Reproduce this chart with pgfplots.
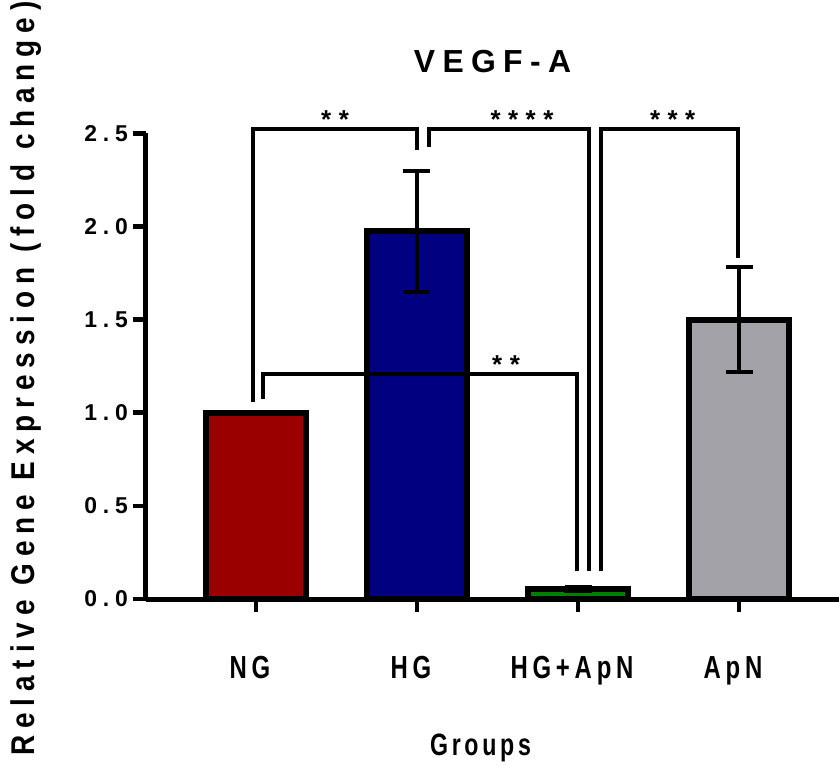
\documentclass[border=0pt]{standalone}
\usepackage{fontspec}
\setmainfont{Liberation Sans}
\newfontfamily\titlefont{Liberation Sans}[LetterSpace=23]
\newfontfamily\ylabfont{Liberation Sans}[FakeStretch=0.85, LetterSpace=21]
\newfontfamily\xlabfont{Liberation Sans}[FakeStretch=0.75, LetterSpace=12]
\newfontfamily\xtickfont{Liberation Sans}[FakeStretch=0.75, LetterSpace=15]
\newfontfamily\ytickfont{Liberation Sans}[LetterSpace=25]
\newfontfamily\starfont{Liberation Sans}[LetterSpace=29]
\usepackage{pgfplots}
\pgfplotsset{compat=1.18}

\definecolor{ngred}{RGB}{155,0,0}
\definecolor{hgblue}{RGB}{0,0,128}
\definecolor{mixgreen}{RGB}{0,128,0}
\definecolor{apngray}{RGB}{162,162,168}

\tikzset{
  sigline/.style={line width=4.5bp, line cap=butt, line join=miter, black},
  sigstar/.style={font=\starfont\fontsize{26}{26}\selectfont\bfseries, anchor=base, inner sep=0pt},
}

\begin{document}
\begin{tikzpicture}
\begin{axis}[
  scale only axis,
  width=693bp, height=465.7bp,
  xmin=-0.683, xmax=3.621,
  ymin=0, ymax=2.5,
  axis x line=bottom, axis y line=left,
  axis line style={-, line width=5bp},
  xtick={0,1,2,3},
  xticklabels={NG, HG, HG+ApN, ApN},
  ytick={0,0.5,1,1.5,2,2.5},
  tick align=outside,
  major tick length=13bp,
  tick style={line width=4.5bp, black},
  /pgf/number format/assume math mode=true,
  yticklabel={\pgfmathprintnumber[fixed, fixed zerofill, precision=1]{\tick}},
  yticklabel style={font=\ytickfont\fontsize{23}{23}\selectfont\bfseries, anchor=east, inner sep=0pt, xshift=-5bp},
  xticklabel style={font=\xtickfont\fontsize{32}{32}\selectfont\bfseries, anchor=base, inner sep=0pt, yshift=-66bp, xshift=-6bp},
  clip=false,
  ybar, bar width=0.621,
  error bars/error bar style={line width=4bp, black},
  error bars/error mark options={rotate=90, mark size=13.5bp, line width=4bp, black},
]

% group means with their error ranges
\addplot[fill=ngred, draw=black, line width=6bp, bar shift=0pt]
  coordinates {(0,1.000)};
\addplot[fill=hgblue, draw=black, line width=6bp, bar shift=0pt,
  error bars/.cd, y dir=both, y explicit]
  coordinates {(1,1.973) +- (0,0.323)};
\addplot[fill=mixgreen, draw=black, line width=6bp, bar shift=0pt,
  error bars/.cd, y dir=both, y explicit]
  coordinates {(2,0.055) +- (0,0.012)};
\addplot[fill=apngray, draw=black, line width=6bp, bar shift=0pt,
  error bars/.cd, y dir=both, y explicit]
  coordinates {(3,1.500) +- (0,0.283)};

% significance brackets
\draw[sigline] (axis cs:-0.019,1.057) |- (axis cs:1.000,2.524) -- (axis cs:1.000,2.411);
\draw[sigline] (axis cs:1.075,2.427) |- (axis cs:2.068,2.524) -- (axis cs:2.068,0.150);
\draw[sigline] (axis cs:2.143,0.150) |- (axis cs:2.994,2.524) -- (axis cs:2.994,1.831);
\draw[sigline] (axis cs:0.043,1.074) |- (axis cs:1.994,1.208) -- (axis cs:1.994,0.150);

\node[sigstar] at (axis cs:0.491,2.524) {**};
\node[sigstar] at (axis cs:1.652,2.524) {****};
\node[sigstar] at (axis cs:2.588,2.524) {***};
\node[sigstar] at (axis cs:1.553,1.208) {**};

% titles
\node[font=\titlefont\fontsize{32}{32}\selectfont\bfseries, anchor=base, inner sep=0pt]
  at (rel axis cs:0.5,1) [yshift=60.3bp] {VEGF-A};
\node[font=\xlabfont\fontsize{31}{31}\selectfont\bfseries, anchor=base, inner sep=0pt]
  at (rel axis cs:0.5,0) [xshift=-12bp, yshift=-156bp] {Groups};
\node[xshift=-111bp, yshift=220.5bp, rotate=90,
  font=\ylabfont\fontsize{33}{33}\selectfont\bfseries, anchor=base, inner sep=0pt]
  at (rel axis cs:0,0) {Relative Gene Expression (fold change)};
\end{axis}
\pgfresetboundingbox
\path[use as bounding box] (-146bp,-167bp) rectangle (693bp,599bp);
\end{tikzpicture}
\end{document}
